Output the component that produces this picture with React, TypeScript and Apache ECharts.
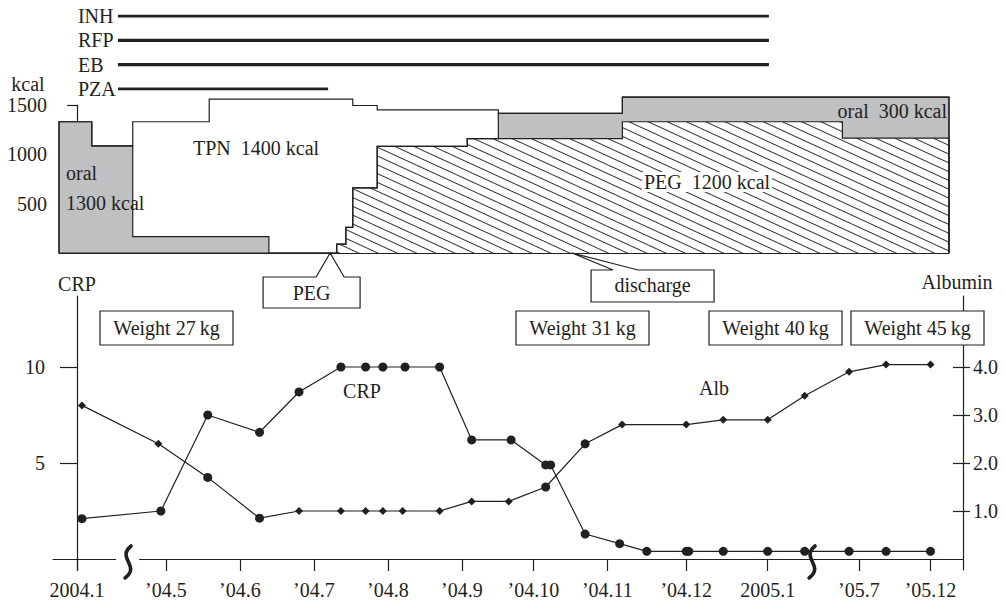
import React, { useEffect, useRef } from 'react';
import * as echarts from 'echarts';

// ---------- data ----------
// timeline position in (compressed) days counted from 2004.1; the axis is broken twice
const TICK_DAYS = [0, 36, 66, 96, 126, 156, 185, 215, 247, 280, 317, 346];
const TICK_LABELS = ['2004.1', '\u201904.5', '\u201904.6', '\u201904.7', '\u201904.8', '\u201904.9', '\u201904.10', '\u201904.11', '\u201904.12', '2005.1', '\u201905.7', '\u201905.12'];
const BREAK_DAYS = [20.7, 298];

const CRP_DAYS = [2, 34, 53, 74, 90, 107, 117, 124, 133, 147, 160, 176, 190, 192, 206, 220, 231, 247, 248, 262, 280, 295, 313, 328, 346];
const CRP_VALUES = [2.1, 2.5, 7.5, 6.6, 8.7, 10, 10, 10, 10, 10, 6.2, 6.2, 4.9, 4.9, 1.3, 0.8, 0.4, 0.4, 0.4, 0.4, 0.4, 0.4, 0.4, 0.4, 0.4];
const CRP_TICKS = [5, 10];

const ALB_DAYS = [2, 33, 53, 74, 90, 107, 117, 124, 132, 147, 160, 175, 190, 206, 221, 247, 262, 280, 295, 313, 328, 346];
const ALB_VALUES = [3.2, 2.4, 1.7, 0.85, 1.0, 1.0, 1.0, 1.0, 1.0, 1.0, 1.2, 1.2, 1.5, 2.4, 2.8, 2.8, 2.9, 2.9, 3.4, 3.9, 4.05, 4.05];
const ALB_TICKS = [1, 2, 3, 4];
const ALB_ROUND_MARKS = [2, 3, 12, 13]; // indices drawn with round markers

// nutrition: [start day, kcal/day from that day on]
const PEG_KCAL = [[105.3, 90], [109, 260], [111.8, 660], [121.7, 1080], [158.2, 1160], [221.1, 1330], [310.3, 1165], [353.5, 0]];
const ORAL_KCAL = [[-7.3, 1330], [6, 1085], [22.6, 165], [77.8, 0], [170.8, 255], [221.1, 250], [310.3, 415], [353.5, 0]];
const TPN_KCAL = [[22.6, 1165], [53.6, 1395], [77.8, 1560], [105.3, 1470], [109, 1300], [111.8, 835], [121.7, 370], [158.2, 290], [170.8, 0]];
const KCAL_TICKS = [500, 1000, 1500];

const DRUGS = ['INH', 'RFP', 'EB', 'PZA'];
const DRUG_START = [16.6, 16.6, 16.6, 16.6];
const DRUG_END = [280.5, 280.5, 280.5, 101.8];

const EVENTS = [
  { label: 'PEG', day: 102.6 },
  { label: 'discharge', day: 200.7 },
];
const WEIGHTS = [27, 31, 40, 45];

// ---------- layout ----------
const W = 1006;
const H = 603;
const FONT = 'Liberation Serif';
const INK = '#231f20';
const GRAY = '#bfc0c2';
const X0_PX = 77; // pixel of day 0
const PX_PER_DAY = 2.4667;
const dayAt = (px: number) => (px - X0_PX) / PX_PER_DAY;

const B_LEFT = 53, B_RIGHT = 963, B_TOP = 296, B_BOTTOM = 570, ZERO_Y = 559;
const CRP_PX = 19.2, ALB_PX = 48;
const T_LEFT = 59, T_RIGHT = 949, T_TOP = 105, T_BASE = 253;
const WEIGHT_BOX_LEFT = [100, 516, 709, 851];

function valueAt(steps: number[][], x: number) {
  let v = 0;
  for (const [s, k] of steps) if (s <= x) v = k;
  return v;
}
function cumLine(layers: number[][][], all: number[][][]) {
  const xs = Array.from(new Set(all.flat().map((s) => s[0]))).sort((a, b) => a - b);
  const total = (x: number) => layers.reduce((acc, st) => acc + valueAt(st, x), 0);
  const pts: number[][] = [];
  for (const x of xs) {
    const before = total(x - 1e-6);
    const after = total(x);
    pts.push([x, before]);
    if (after !== before) pts.push([x, after]);
  }
  return pts;
}

export default function App() {
  const ref = useRef<HTMLDivElement>(null);
  useEffect(() => {
    const chart = echarts.init(ref.current!, undefined, { renderer: 'svg' });
    const all = [PEG_KCAL, ORAL_KCAL, TPN_KCAL];
    const text20 = { fontFamily: FONT, fontSize: 20, color: INK };
    const areaSeries = (name: string, layers: number[][][], fill: string, decal?: any) => ({
      name,
      type: 'line',
      xAxisIndex: 1,
      yAxisIndex: 4,
      data: cumLine(layers, all),
      showSymbol: false,
      symbol: 'none',
      clip: false,
      silent: true,
      lineStyle: { color: INK, width: 1.2, join: 'miter' },
      itemStyle: decal ? { color: INK, decal } : { color: INK },
      areaStyle: { color: fill, opacity: 1 },
    });
    const crpMin = -(B_BOTTOM - ZERO_Y) / CRP_PX;
    const crpMax = (ZERO_Y - B_TOP) / CRP_PX;
    const albMin = -(B_BOTTOM - ZERO_Y) / ALB_PX;
    const albMax = (ZERO_Y - B_TOP) / ALB_PX;
    const gridCommon = { outerBoundsMode: 'none', containLabel: false };

    const option: any = {
      animation: false,
      backgroundColor: '#fff',
      textStyle: { fontFamily: FONT, color: INK },
      grid: [
        { ...gridCommon, left: B_LEFT, width: B_RIGHT - B_LEFT, top: B_TOP, height: B_BOTTOM - B_TOP },
        { ...gridCommon, left: T_LEFT, width: T_RIGHT - T_LEFT, top: T_TOP, height: T_BASE - T_TOP },
        { ...gridCommon, left: T_LEFT, width: T_RIGHT - T_LEFT, top: 16, height: 73 },
      ],
      xAxis: [
        {
          type: 'value', gridIndex: 0, min: dayAt(B_LEFT), max: dayAt(B_RIGHT),
          axisLine: { onZero: true, onZeroAxisIndex: 0, lineStyle: { color: INK, width: 1.2 } },
          axisTick: { customValues: TICK_DAYS, length: 12, lineStyle: { color: INK, width: 1.2 } },
          axisLabel: {
            customValues: TICK_DAYS, margin: 10, ...text20,
            formatter: (v: number) => TICK_LABELS[TICK_DAYS.indexOf(v)] ?? '',
          },
          splitLine: { show: false },
        },
        {
          type: 'value', gridIndex: 1, min: dayAt(T_LEFT), max: dayAt(T_RIGHT),
          axisLine: { lineStyle: { color: INK, width: 1.2 } },
          axisTick: { show: false }, axisLabel: { show: false }, splitLine: { show: false },
        },
        { type: 'value', gridIndex: 2, min: dayAt(T_LEFT), max: dayAt(T_RIGHT), show: false },
      ],
      yAxis: [
        {
          type: 'value', gridIndex: 0, position: 'left', offset: -7, min: crpMin, max: crpMax,
          name: 'CRP', nameLocation: 'end', nameGap: 2, nameTextStyle: { ...text20 },
          axisLine: { show: true, lineStyle: { color: INK, width: 1.2 } },
          axisTick: { show: true, customValues: CRP_TICKS, length: 10, lineStyle: { color: INK, width: 1.2 } },
          axisLabel: { customValues: CRP_TICKS, margin: 15, ...text20 },
          splitLine: { show: false },
        },
        {
          type: 'value', gridIndex: 0, position: 'right', min: albMin, max: albMax,
          name: 'Albumin', nameLocation: 'end', nameGap: 4, nameTextStyle: { ...text20, padding: [0, 12, 0, 0] },
          axisLine: { show: true, lineStyle: { color: INK, width: 1.2 } },
          axisTick: { show: true, customValues: ALB_TICKS, length: 7, lineStyle: { color: INK, width: 1.2 } },
          axisLabel: { customValues: ALB_TICKS, margin: 10, ...text20, formatter: (v: number) => v.toFixed(1) },
          splitLine: { show: false },
        },
        {
          type: 'value', gridIndex: 0, position: 'left', offset: -7, min: crpMin, max: crpMax,
          axisLine: { show: false },
          axisTick: { show: true, inside: true, customValues: CRP_TICKS, length: 7, lineStyle: { color: INK, width: 1.2 } },
          axisLabel: { show: false }, splitLine: { show: false },
        },
        {
          type: 'value', gridIndex: 0, position: 'right', min: albMin, max: albMax,
          axisLine: { show: false },
          axisTick: { show: true, inside: true, customValues: ALB_TICKS, length: 10, lineStyle: { color: INK, width: 1.2 } },
          axisLabel: { show: false }, splitLine: { show: false },
        },
        {
          type: 'value', gridIndex: 1, min: 0, max: 1500,
          axisLine: { show: true, lineStyle: { color: INK, width: 1.2 } },
          axisTick: { show: true, customValues: KCAL_TICKS, length: 10, lineStyle: { color: INK, width: 1.2 } },
          axisLabel: { customValues: KCAL_TICKS, margin: 12, ...text20, formatter: (v: number) => String(v) },
          splitLine: { show: false },
        },
        {
          type: 'category', gridIndex: 2, data: ['PZA', 'EB', 'RFP', 'INH'], boundaryGap: false,
          offset: -(DRUG_START[0] * PX_PER_DAY + X0_PX - T_LEFT),
          axisLine: { show: false }, axisTick: { show: false }, splitLine: { show: false },
          axisLabel: { align: 'left', margin: 40, interval: 0, ...text20 },
        },
      ],
      series: [
        areaSeries('total', [PEG_KCAL, ORAL_KCAL, TPN_KCAL], '#ffffff'),
        areaSeries('oral', [PEG_KCAL, ORAL_KCAL], GRAY),
        areaSeries('PEG', [PEG_KCAL], '#ffffff', {
          symbol: 'rect', symbolSize: 1, dashArrayX: [1, 0], dashArrayY: [1, 6.5], rotation: 0.43, color: '#333',
        }),
        ...DRUGS.map((d, i) => ({
          name: d, type: 'line', xAxisIndex: 2, yAxisIndex: 5, silent: true,
          data: [[DRUG_START[i], d], [DRUG_END[i], d]],
          symbol: 'none', lineStyle: { color: INK, width: 3.2, cap: 'butt' },
        })),
        {
          name: 'CRP', type: 'line', xAxisIndex: 0, yAxisIndex: 0,
          data: CRP_DAYS.map((d, i) => [d, CRP_VALUES[i]]),
          symbol: 'circle', symbolSize: 9, showSymbol: true,
          lineStyle: { color: INK, width: 1.2 }, itemStyle: { color: INK },
        },
        {
          name: 'Alb', type: 'line', xAxisIndex: 0, yAxisIndex: 1,
          data: ALB_DAYS.map((d, i) => ({
            value: [d, ALB_VALUES[i]],
            symbol: ALB_ROUND_MARKS.includes(i) ? 'circle' : 'diamond',
            symbolSize: ALB_ROUND_MARKS.includes(i) ? 9 : 8,
          })),
          showSymbol: true,
          lineStyle: { color: INK, width: 1.2 }, itemStyle: { color: INK },
        },
      ],
    };
    chart.setOption(option);

    // annotations anchored on the timeline
    const txt = (text: string, x: number, y: number, align = 'center', extra: any = {}) => ({
      type: 'text', x, y, z: 120, silent: true,
      style: {
        text, fill: INK, fontFamily: FONT, fontSize: 20,
        align, textAlign: align, verticalAlign: 'middle', textVerticalAlign: 'middle', ...extra,
      },
    });
    const g: any[] = [];
    const [px, py] = chart.convertToPixel({ xAxisIndex: 1, yAxisIndex: 4 }, [EVENTS[0].day, 0]) as number[];
    g.push({
      type: 'polygon', z: 110, silent: true,
      shape: { points: [[px - 67, py + 24], [px - 14, py + 24], [px, py], [px + 14, py + 24], [px + 30, py + 24], [px + 30, py + 55], [px - 67, py + 55]] },
      style: { fill: '#fff', stroke: INK, lineWidth: 1.2 },
    });
    g.push(txt(EVENTS[0].label, px - 18.5, py + 40));
    const [dx, dy] = chart.convertToPixel({ xAxisIndex: 1, yAxisIndex: 4 }, [EVENTS[1].day, 0]) as number[];
    g.push({
      type: 'polygon', z: 110, silent: true,
      shape: { points: [[dx + 19, dy + 17], [dx + 41, dy + 17], [dx, dy], [dx + 66, dy + 17], [dx + 142, dy + 17], [dx + 142, dy + 49], [dx + 19, dy + 49]] },
      style: { fill: '#fff', stroke: INK, lineWidth: 1.2 },
    });
    g.push(txt(EVENTS[1].label, dx + 80.5, dy + 32));

    WEIGHTS.forEach((w, i) => {
      const l = WEIGHT_BOX_LEFT[i];
      g.push({
        type: 'rect', z: 110, silent: true,
        shape: { x: l, y: 311, width: 133, height: 34 },
        style: { fill: '#fff', stroke: INK, lineWidth: 1.2 },
      });
      g.push(txt(`Weight ${w}\u2009kg`, l + 66.5, 328));
    });

    g.push(txt('kcal', 28, 84));
    g.push(txt('CRP', 362, 391));
    g.push(txt('Alb', 714, 388));
    g.push(txt('TPN\u00a0 1400 kcal', 193, 148, 'left'));
    g.push(txt('oral', 66, 173, 'left'));
    g.push(txt('1300 kcal', 66, 203, 'left'));
    g.push(txt('PEG\u00a0 1200 kcal', 642, 182, 'left', { backgroundColor: '#fff', padding: [0, 2, 0, 2] }));
    g.push(txt('oral\u00a0 300 kcal', 947, 111, 'right'));

    BREAK_DAYS.forEach((d, i) => {
      const [bx, by] = chart.convertToPixel({ xAxisIndex: 0, yAxisIndex: 0 }, [d, 0]) as number[];
      if (i === 0) {
        g.push({ type: 'rect', z: 115, silent: true, shape: { x: bx - 12, y: by - 4, width: 23, height: 8 }, style: { fill: '#fff' } });
      }
      g.push({
        type: 'bezierCurve', z: 118, silent: true,
        shape: { x1: bx + 3, y1: by - 13, cpx1: bx - 12, cpy1: by - 1, cpx2: bx + 13, cpy2: by + 7, x2: bx - 3, y2: by + 19 },
        style: { stroke: INK, lineWidth: 3.6, fill: 'none', lineCap: 'round' },
      });
    });

    chart.setOption({ graphic: g });
    return () => chart.dispose();
  }, []);
  return <div ref={ref} style={{ position: 'fixed', left: 0, top: 0, width: W, height: H, background: '#fff' }} />;
}
